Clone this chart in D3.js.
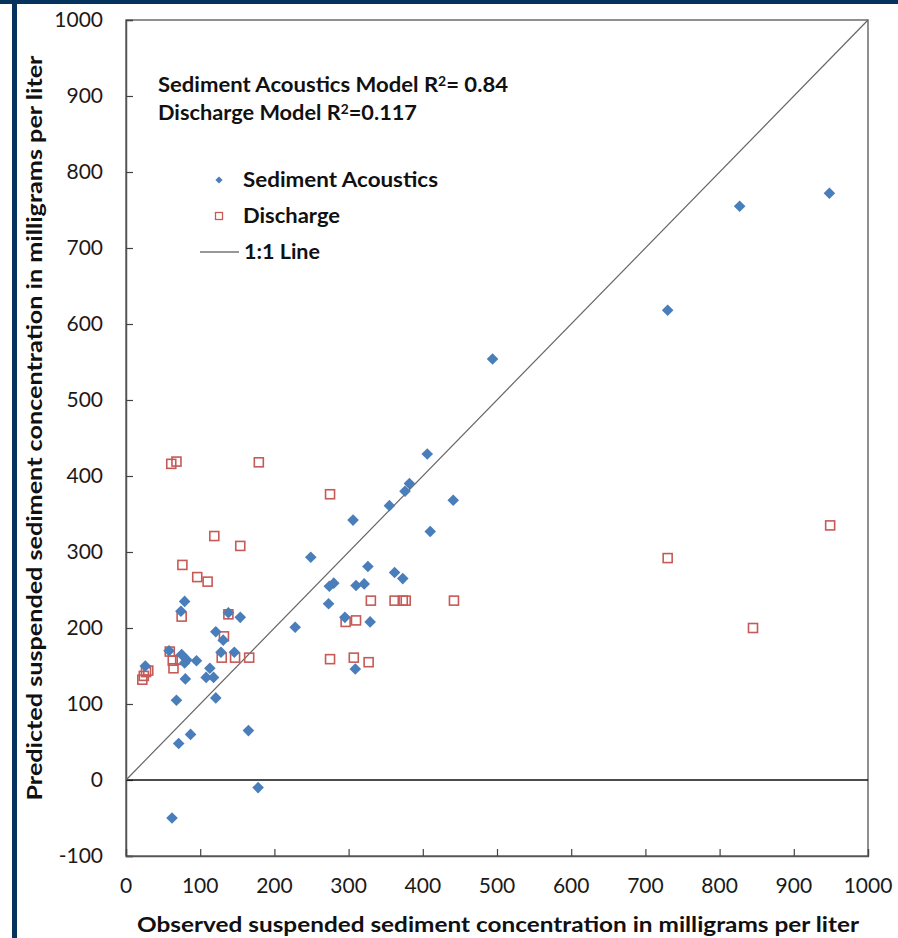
<!DOCTYPE html>
<html><head><meta charset="utf-8">
<script src="https://cdn.jsdelivr.net/npm/d3@7"></script>
<style>body{margin:0;background:#fff}svg{display:block}</style>
</head><body>
<script>
// Sediment Acoustics model: [observed, predicted]
const acousticsObs  = [948,827,730,494,406,441,382,376,355,306,410,326,362,373,249,274,280,310,321,273,295,329,228,154,309,79,74,138,121,131,58,75,128,146,82,95,79,26,113,108,118,80,121,68,165,87,71,178,62];
const acousticsPred = [772,755,618,554,429,368,390,380,361,342,327,281,273,265,293,255,259,256,258,232,214,208,201,214,146,235,222,220,195,184,170,165,168,168,158,157,154,150,147,135,135,133,108,105,65,60,48,-10,-50];
// Discharge model: [observed, predicted]
const dischargeObs  = [61,68,179,119,154,76,96,110,75,138,132,275,330,362,373,377,442,296,310,166,275,307,327,59,63,73,64,129,147,22,24,27,30,730,949,845];
const dischargePred = [416,419,418,321,308,283,267,261,215,218,189,376,236,236,236,236,236,208,210,161,159,161,155,169,157,158,147,161,161,132,137,142,144,292,335,200];
const xTicks = [0,100,200,300,400,500,600,700,800,900,1000];
const yTicks = [-100,0,100,200,300,400,500,600,700,800,900,1000];

const W = 898, H = 938;
const svg = d3.select("body").append("svg").attr("width", W).attr("height", H);
const FONT = "Lato, 'Open Sans', sans-serif";

// decorative frame
svg.append("rect").attr("x",0).attr("y",0).attr("width",W).attr("height",4).attr("fill","#06325e");
svg.append("rect").attr("x",12).attr("y",0).attr("width",5).attr("height",H).attr("fill","#06325e");

const x = d3.scaleLinear().domain([0,1000]).range([126,868]);
const y = d3.scaleLinear().domain([-100,1000]).range([856,20]);

// plot border
svg.append("rect").attr("x",x(0)).attr("y",y(1000)).attr("width",x(1000)-x(0)).attr("height",y(-100)-y(1000))
  .attr("fill","none").attr("stroke","#555").attr("stroke-width",1.3);

// y axis (ticks inward)
const yAxis = svg.append("g").attr("transform",`translate(${x(0)},0)`)
  .call(d3.axisRight(y).tickValues(yTicks).tickSize(7).tickFormat(""));
yAxis.select(".domain").attr("stroke","#555").attr("stroke-width",1.5);
yAxis.selectAll(".tick line").attr("stroke","#444").attr("stroke-width",1.2);
svg.append("g").selectAll("text").data(yTicks).join("text")
  .attr("x",103).attr("y",d=>y(d)).attr("dy","0.35em").attr("text-anchor","end")
  .attr("font-family",FONT).attr("font-size",21).attr("fill","#1a1a1a").text(d=>d);

// x axis at bottom (ticks upward)
const xAxis = svg.append("g").attr("transform",`translate(0,${y(-100)})`)
  .call(d3.axisTop(x).tickValues(xTicks).tickSize(7).tickFormat(""));
xAxis.select(".domain").attr("stroke","#555").attr("stroke-width",1.3);
xAxis.selectAll(".tick line").attr("stroke","#444").attr("stroke-width",1.2);
svg.append("g").selectAll("text").data(xTicks).join("text")
  .attr("x",d=>x(d)).attr("y",886).attr("dy","0.35em").attr("text-anchor","middle")
  .attr("font-family",FONT).attr("font-size",21).attr("fill","#1a1a1a").text(d=>d);

// zero line
svg.append("line").attr("x1",x(0)).attr("x2",x(1000)).attr("y1",y(0)).attr("y2",y(0))
  .attr("stroke","#111").attr("stroke-width",1.4);

// 1:1 line
svg.append("line").attr("x1",x(0)).attr("y1",y(0)).attr("x2",x(1000)).attr("y2",y(1000))
  .attr("stroke","#666").attr("stroke-width",1.2);

// discharge squares
const sq = 9;
svg.append("g").selectAll("rect").data(dischargeObs.map((d,i)=>[d,dischargePred[i]])).join("rect")
  .attr("x",d=>x(d[0])-sq/2).attr("y",d=>y(d[1])-sq/2).attr("width",sq).attr("height",sq)
  .attr("fill","none").attr("stroke","#c65a57").attr("stroke-width",1.6);

// acoustics diamonds
const diamond = "M0,-5.8L5.8,0L0,5.8L-5.8,0Z";
svg.append("g").selectAll("path").data(acousticsObs.map((d,i)=>[d,acousticsPred[i]])).join("path")
  .attr("d",diamond).attr("transform",d=>`translate(${x(d[0])},${y(d[1])})`)
  .attr("fill","#4a7ebb");

// annotations
const ann = svg.append("g").attr("font-family",FONT).attr("font-weight","bold").attr("fill","#111").attr("font-size",20.5);
const t1 = ann.append("text").attr("x",158).attr("y",85).attr("dy","0.35em")
  .attr("textLength",350).attr("lengthAdjust","spacingAndGlyphs");
t1.append("tspan").text("Sediment Acoustics Model R");
t1.append("tspan").attr("font-size",13).attr("dy","-0.5em").text("2");
t1.append("tspan").attr("dy","0.33em").text("= 0.84");
const t2 = ann.append("text").attr("x",158).attr("y",113).attr("dy","0.35em")
  .attr("textLength",259).attr("lengthAdjust","spacingAndGlyphs");
t2.append("tspan").text("Discharge Model R");
t2.append("tspan").attr("font-size",13).attr("dy","-0.5em").text("2");
t2.append("tspan").attr("dy","0.33em").text("=0.117");

// legend
const lg = svg.append("g").attr("font-family",FONT).attr("font-weight","bold").attr("fill","#111").attr("font-size",20.5);
lg.append("path").attr("d","M0,-3.6L3.6,0L0,3.6L-3.6,0Z").attr("transform","translate(219,180)").attr("fill","#4a7ebb");
lg.append("text").attr("x",243).attr("y",180).attr("dy","0.35em").attr("textLength",195).attr("lengthAdjust","spacingAndGlyphs").text("Sediment Acoustics");
lg.append("rect").attr("x",215.5).attr("y",212.5).attr("width",7).attr("height",7).attr("fill","none").attr("stroke","#c65a57").attr("stroke-width",1.3);
lg.append("text").attr("x",243).attr("y",216).attr("dy","0.35em").attr("textLength",97).attr("lengthAdjust","spacingAndGlyphs").text("Discharge");
lg.append("line").attr("x1",200).attr("x2",239).attr("y1",252).attr("y2",252).attr("stroke","#333").attr("stroke-width",1.2);
lg.append("text").attr("x",244).attr("y",252).attr("dy","0.35em").attr("textLength",76).attr("lengthAdjust","spacingAndGlyphs").text("1:1 Line");

// axis titles
svg.append("text").attr("x",498).attr("y",924).attr("dy","0.35em").attr("text-anchor","middle")
  .attr("font-family",FONT).attr("font-weight","bold").attr("font-size",21.5).attr("fill","#111")
  .attr("textLength",722).attr("lengthAdjust","spacingAndGlyphs")
  .text("Observed suspended sediment concentration in milligrams per liter");
svg.append("text").attr("transform","translate(34,428) rotate(-90)").attr("dy","0.35em").attr("text-anchor","middle")
  .attr("font-family",FONT).attr("font-weight","bold").attr("font-size",21.5).attr("fill","#111")
  .attr("textLength",745).attr("lengthAdjust","spacingAndGlyphs")
  .text("Predicted suspended sediment concentration in milligrams per liter");
</script>
</body></html>
